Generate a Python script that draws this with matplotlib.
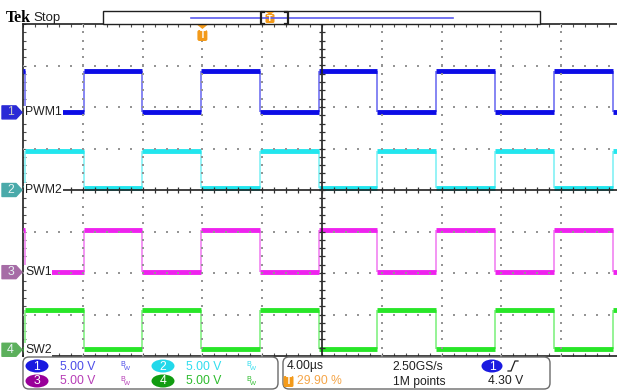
import numpy as np
import matplotlib
matplotlib.use("Agg")
import matplotlib.pyplot as plt
from matplotlib.patches import Polygon, FancyBboxPatch, Ellipse, Rectangle
from matplotlib.transforms import blended_transform_factory

plt.rcParams['font.family'] = ['Liberation Sans', 'DejaVu Sans']

# acquisition settings
time_per_div = 4.0        # µs/div
volts_per_div = 5.0       # V/div
trigger_time = -8.0       # µs, screen position of the trigger point
trigger_pos_pct = 29.90
trigger_level = 4.30
sample_rate = "2.50GS/s"
record_len = "1M points"

# switching edges, µs from screen centre
edges_us = [-19.88, -15.95, -12.02, -8.09, -4.15, -0.22, 3.71, 7.63, 11.57, 15.52, 19.46]

channels = ['PWM1', 'PWM2', 'SW1', 'SW2']
channel_offsets = [1.87, 0.0, -1.98, -3.85]     # divisions
low_levels = [0.0, 0.2, 0.05, 0.1]              # V
high_levels = [5.0, 4.75, 5.1, 4.85]            # V
starts_high = [True, False, True, False]

trace_colors = ['#0C0CE6', '#22E6EE', '#EE22EE', '#28E628']
edge_colors = ['#7C7CF2', '#8CF2F6', '#F28CF2', '#8CF28C']
tag_colors = ['#2A2AD6', '#4AAAAA', '#A66CA6', '#5CB05C']
badge_colors = ['#1A1AE0', '#22D8EA', '#990099', '#119C11']
label_colors = ['#4C4CE8', '#30DDEE', '#B63CB6', '#2CBC2C']

W, H = 617, 390
fig = plt.figure(figsize=(W / 100, H / 100), dpi=100)
fig.patch.set_facecolor('white')

# graticule: 10 x 8 divisions, right edge runs off the screen
gl, gt, gw, gh = 23, 24, 598, 332
ax = fig.add_axes([gl / W, 1 - (gt + gh) / H, gw / W, gh / H])
ax.set_xlim(-5 * time_per_div, 5 * time_per_div)
ax.set_ylim(-4, 4)
ax.set_xticks(np.arange(-20, 21, 4))
ax.set_xticks(np.arange(-20, 20.1, 0.8), minor=True)
ax.set_yticks(np.arange(-4, 5, 1))
ax.set_yticks(np.arange(-4, 4.01, 0.2), minor=True)
ax.tick_params(which='both', direction='in', length=2.2, width=0.8, color='#505050',
               top=True, right=True, labelbottom=False, labelleft=False)
for s in ax.spines.values():
    s.set_color('#202020')
    s.set_linewidth(1.2)

# dotted division lines
gx, gy = [], []
for xv in np.arange(-16, 17, 4):
    if xv == 0:
        continue
    ys = np.arange(-4, 4.01, 0.2)
    gx += [xv] * len(ys)
    gy += list(ys)
for yv in np.arange(-3, 4, 1):
    if yv == 0:
        continue
    xs = np.arange(-20, 20.1, 0.8)
    gx += list(xs)
    gy += [yv] * len(xs)
ax.scatter(gx, gy, s=1.4, marker='s', color='#959595', linewidths=0, zorder=5)

# centre cross with tick marks
ax.axvline(0, color='#202020', lw=1.2, zorder=6)
ax.axhline(0, color='#202020', lw=1.2, zorder=6)
ty = np.arange(-4, 4.01, 0.2)
ax.plot(np.zeros_like(ty), ty, ls='none', marker='_', ms=3.8, mew=0.9, color='#303030', zorder=6)
tx = np.arange(-20, 20.1, 0.8)
ax.plot(tx, np.zeros_like(tx), ls='none', marker='|', ms=3.8, mew=0.9, color='#303030', zorder=6)

# traces
bounds = [-20.0] + edges_us + [20.0]
for off, lo, hi, first_hi, col, ecol in zip(channel_offsets, low_levels, high_levels,
                                             starts_high, trace_colors, edge_colors):
    lv = [hi, lo] if first_hi else [lo, hi]
    for i in range(len(bounds) - 1):
        v = off + lv[i % 2] / volts_per_div
        ax.hlines(v, bounds[i], bounds[i + 1], color=col, lw=3.5, zorder=3, capstyle='butt')
    ax.vlines(edges_us, off + lo / volts_per_div, off + hi / volts_per_div,
              color=ecol, lw=1.3, zorder=2)

# channel names at the left edge, and ground tags outside the graticule
left_tr = blended_transform_factory(ax.transAxes, ax.transData)
for k, (name, off) in enumerate(zip(channels, channel_offsets)):
    ax.annotate(name, xy=(0, off), xycoords=left_tr, xytext=(2, 0), textcoords='offset pixels',
                va='center', ha='left', fontsize=8.8, color='#202020', zorder=8,
                bbox=dict(fc='white', ec='none', pad=0.6))
    X0, Y0 = left_tr.transform((0, off))
    verts = [(X0 - 21, Y0 - 6.5), (X0 - 7, Y0 - 6.5), (X0 - 1, Y0), (X0 - 7, Y0 + 6.5),
             (X0 - 21, Y0 + 6.5)]
    fig.patches.append(Polygon(verts, closed=True, transform=None, fc=tag_colors[k],
                               ec=tag_colors[k], lw=1.0, joinstyle='round'))
    fig.text(X0 - 12.5, Y0, str(k + 1), transform=None, ha='center', va='center',
             fontsize=8.8, color='#C8C8C8' if k == 0 else '#E8F4F4')

# trigger marker at the top of the graticule
top_tr = blended_transform_factory(ax.transData, ax.transAxes)
TX, TY = top_tr.transform((trigger_time, 1))
fig.patches.append(Polygon([(TX - 5, TY - 1), (TX + 5, TY - 1), (TX, TY - 5)], closed=True,
                           transform=None, fc='#F39A1A', ec='none'))
fig.patches.append(FancyBboxPatch((TX - 5, TY - 17), 10, 11, boxstyle='round,pad=0,rounding_size=2',
                                  transform=None, fc='#F39A1A', ec='none'))
fig.text(TX, TY - 11.5, 'T', transform=None, ha='center', va='center', fontsize=7,
         fontweight='bold', color='white')

# overlay in pixel coordinates for the header and readout panel
ov = fig.add_axes([0, 0, 1, 1], zorder=10)
ov.set_xlim(0, W)
ov.set_ylim(H, 0)
ov.axis('off')
ov.patch.set_alpha(0)

ov.text(6, 17.5, 'Tek', fontsize=11.5, fontweight='bold', family='Liberation Serif',
        va='center', ha='left', color='black')
ov.text(33, 17.5, 'Stop', fontsize=9.5, va='center', ha='left', color='#202020')

# record view bar
ov.add_patch(Rectangle((103, 11), 437, 13, fc='white', ec='#202020', lw=1.0))
ov.plot([191, 453], [17.5, 17.5], color='#5A5AEE', lw=1.2)
ov.plot([264, 261, 261, 264], [11.5, 11.5, 23.5, 23.5], color='#202020', lw=1.6)
ov.plot([285, 288, 288, 285], [11.5, 11.5, 23.5, 23.5], color='#202020', lw=1.6)
ov.add_patch(Polygon([(266, 12), (274, 12), (270, 15)], closed=True, fc='#F39A1A', ec='none'))
ov.add_patch(FancyBboxPatch((265.5, 14), 9, 9, boxstyle='round,pad=0,rounding_size=1.5',
                            fc='#F39A1A', ec='none'))
ov.text(270, 18.8, 'T', fontsize=6.5, fontweight='bold', color='white', ha='center', va='center')

# readout panel
ov.add_patch(FancyBboxPatch((23, 357), 255, 32, boxstyle='round,pad=0,rounding_size=6',
                            fc='white', ec='#6A6A6A', lw=1.0))
ov.add_patch(FancyBboxPatch((283, 357), 267, 32, boxstyle='round,pad=0,rounding_size=6',
                            fc='white', ec='#6A6A6A', lw=1.0))

rows = [366, 381]
cols = [37, 163]
for k in range(4):
    cx = cols[k % 2]
    cy = rows[0] if k in (0, 1) else rows[1]
    ov.add_patch(Ellipse((cx, cy), 23, 13, fc=badge_colors[k], ec='none'))
    ov.text(cx, cy + 0.5, str(k + 1), fontsize=8.8, color='white', ha='center', va='center')
    ov.text(cx + 23, cy + 0.5, f'{volts_per_div:.2f} V', fontsize=8.7, color=label_colors[k],
            ha='left', va='center')
    ov.text(cx + 83, cy - 1.8, 'B', fontsize=5.2, color=label_colors[k], ha='left', va='center')
    ov.text(cx + 86.5, cy + 2.2, 'W', fontsize=4.6, color=label_colors[k], ha='left', va='center')

ov.text(287, rows[0] + 0.5, f'{time_per_div:.2f}µs', fontsize=8.7, color='#202020', va='center')
ov.text(392, rows[0] + 0.5, sample_rate, fontsize=8.7, color='#202020', va='center')
ov.add_patch(Ellipse((492, rows[0]), 21, 13, fc=badge_colors[0], ec='none'))
ov.text(492, rows[0] + 0.5, '1', fontsize=8.8, color='white', ha='center', va='center')
ov.plot([508, 511, 515, 518], [371, 371, 361, 361], color='#202020', lw=0.9)

ov.add_patch(FancyBboxPatch((283.5, 376), 10, 11, boxstyle='round,pad=0,rounding_size=1.5',
                            fc='#F39A1A', ec='none'))
ov.text(288.5, rows[1] + 0.5, 'T', fontsize=7, fontweight='bold', color='white',
        ha='center', va='center')
ov.text(297, rows[1] + 0.5, f'{trigger_pos_pct:.2f} %', fontsize=8.7, color='#F5A548', va='center')
ov.text(393, rows[1] + 0.5, record_len, fontsize=8.7, color='#202020', va='center')
ov.text(488, rows[1] + 0.5, f'{trigger_level:.2f} V', fontsize=8.7, color='#202020', va='center')

fig.savefig('out.png', dpi=100)
